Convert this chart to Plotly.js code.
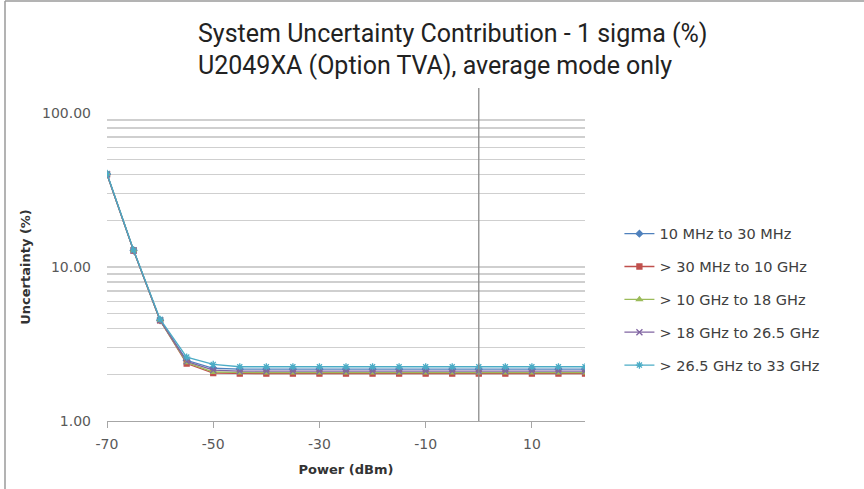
<!DOCTYPE html>
<html>
<head>
<meta charset="utf-8">
<script src="https://cdn.plot.ly/plotly-3.0.1.min.js"></script>
<style>
html,body{margin:0;padding:0;background:#fff;}
#chart{width:864px;height:489px;}
</style>
</head>
<body>
<div id="chart"></div>
<script>
// ---- data ----
const powerDbm = [-70,-65,-60,-55,-50,-45,-40,-35,-30,-25,-20,-15,-10,-5,0,5,10,15,20];
const seriesNames = ["10 MHz to 30 MHz", "> 30 MHz to 10 GHz", "> 10 GHz to 18 GHz", "> 18 GHz to 26.5 GHz", "> 26.5 GHz to 33 GHz"];
const band1 = [40.0,12.8,4.50,2.48,2.20,2.17,2.17,2.17,2.17,2.17,2.17,2.17,2.17,2.17,2.17,2.17,2.17,2.17,2.17];
const band2 = [40.0,12.8,4.50,2.36,2.05,2.03,2.03,2.03,2.03,2.03,2.03,2.03,2.03,2.03,2.03,2.03,2.03,2.03,2.03];
const band3 = [40.0,12.8,4.50,2.40,2.08,2.06,2.06,2.06,2.06,2.06,2.06,2.06,2.06,2.06,2.06,2.06,2.06,2.06,2.06];
const band4 = [40.0,12.8,4.52,2.44,2.14,2.11,2.11,2.11,2.11,2.11,2.11,2.11,2.11,2.11,2.11,2.11,2.11,2.11,2.11];
const band5 = [40.5,12.9,4.58,2.60,2.33,2.25,2.25,2.25,2.25,2.25,2.25,2.25,2.25,2.25,2.25,2.25,2.25,2.25,2.25];
const titleLines = ["System Uncertainty Contribution - 1 sigma (%)", "U2049XA (Option TVA), average mode only"];
const xTickVals = [-70,-50,-30,-10,10];
const xTickText = ["-70","-50","-30","-10","10"];
const yTickVals = [1,2,3,4,5,6,7,8,9,10,20,30,40,50,60,70,80,90,100];
const yTickText = ["1.00","","","","","","","","","10.00","","","","","","","","","100.00"];

// ---- styling ----
const allSeries = [band1, band2, band3, band4, band5];
const colors = ["#4F81BD", "#C0504D", "#9BBB59", "#8064A2", "#4BACC6"];
const symbols = ["diamond", "square", "triangle-up", "x-thin-open", "asterisk-open"];
const sizes = [5, 5, 5, 6, 6];

const traces = allSeries.map((ys, i) => ({
  type: "scatter",
  mode: "lines+markers",
  x: powerDbm,
  y: ys,
  name: seriesNames[i],
  legendgroup: "g" + i,
  line: {color: colors[i], width: 1.3},
  marker: {symbol: symbols[i], size: sizes[i], color: colors[i], line: {color: colors[i], width: 1.3}}
}));

const frame = "#9a9a9a";
const layout = {
  width: 864, height: 489,
  paper_bgcolor: "#ffffff", plot_bgcolor: "#ffffff",
  margin: {l: 107, r: 279, t: 113, b: 68, pad: 0},
  font: {family: "DejaVu Sans, sans-serif", size: 14, color: "#595959"},
  title: {
    text: titleLines.join("<br>"),
    font: {family: "Roboto, sans-serif", size: 25, color: "#222222"},
    x: 198/864, xanchor: "left", xref: "container",
    y: 0.915, yanchor: "top", yref: "container"
  },
  xaxis: {
    range: [-70, 20], autorange: false,
    tickmode: "array", tickvals: xTickVals, ticktext: xTickText,
    ticks: "outside", ticklen: 6, tickcolor: "#a6a6a6", tickwidth: 1,
    showline: true, linecolor: "#a6a6a6", linewidth: 1,
    showgrid: false, zeroline: false,
    ticklabelstandoff: 4,
    tickfont: {family: "DejaVu Sans, sans-serif", size: 14, color: "#595959"},
    title: {text: "Power (dBm)", font: {family: "DejaVu Sans, sans-serif", size: 13, color: "#333333", weight: "bold"}, standoff: 14}
  },
  yaxis: {
    type: "log", range: [0, 2], autorange: false,
    tickmode: "array", tickvals: yTickVals, ticktext: yTickText,
    ticks: "", showline: false,
    showgrid: true, gridcolor: "#cfcfcf", gridwidth: 1.3,
    zeroline: false,
    tickfont: {family: "DejaVu Sans, sans-serif", size: 14, color: "#595959"},
    ticklabelstandoff: 15,
    title: {text: "Uncertainty (%)", font: {family: "DejaVu Sans, sans-serif", size: 13, color: "#333333", weight: "bold"}, standoff: 8}
  },
  legend: {
    x: 1.072, xanchor: "left", y: 0.66, yanchor: "top",
    font: {family: "DejaVu Sans, sans-serif", size: 14.5, color: "#404040"},
    tracegroupgap: 11, traceorder: "grouped",
    bgcolor: "rgba(0,0,0,0)"
  },
  shapes: [
    {type: "line", xref: "x", yref: "paper", x0: 0, x1: 0, y0: 0, y1: (421-88)/308, line: {color: "#8c8c8c", width: 1.3}},
    {type: "line", xref: "paper", yref: "paper", x0: (5-107)/478, x1: (5-107)/478, y0: (421-489)/308, y1: (421-1)/308, line: {color: frame, width: 1.5}},
    {type: "line", xref: "paper", yref: "paper", x0: (5-107)/478, x1: (864-107)/478, y0: (421-1)/308, y1: (421-1)/308, line: {color: frame, width: 1.5}}
  ],
  showlegend: true
};

Plotly.newPlot("chart", traces, layout, {displayModeBar: false, staticPlot: true});
</script>
</body>
</html>
